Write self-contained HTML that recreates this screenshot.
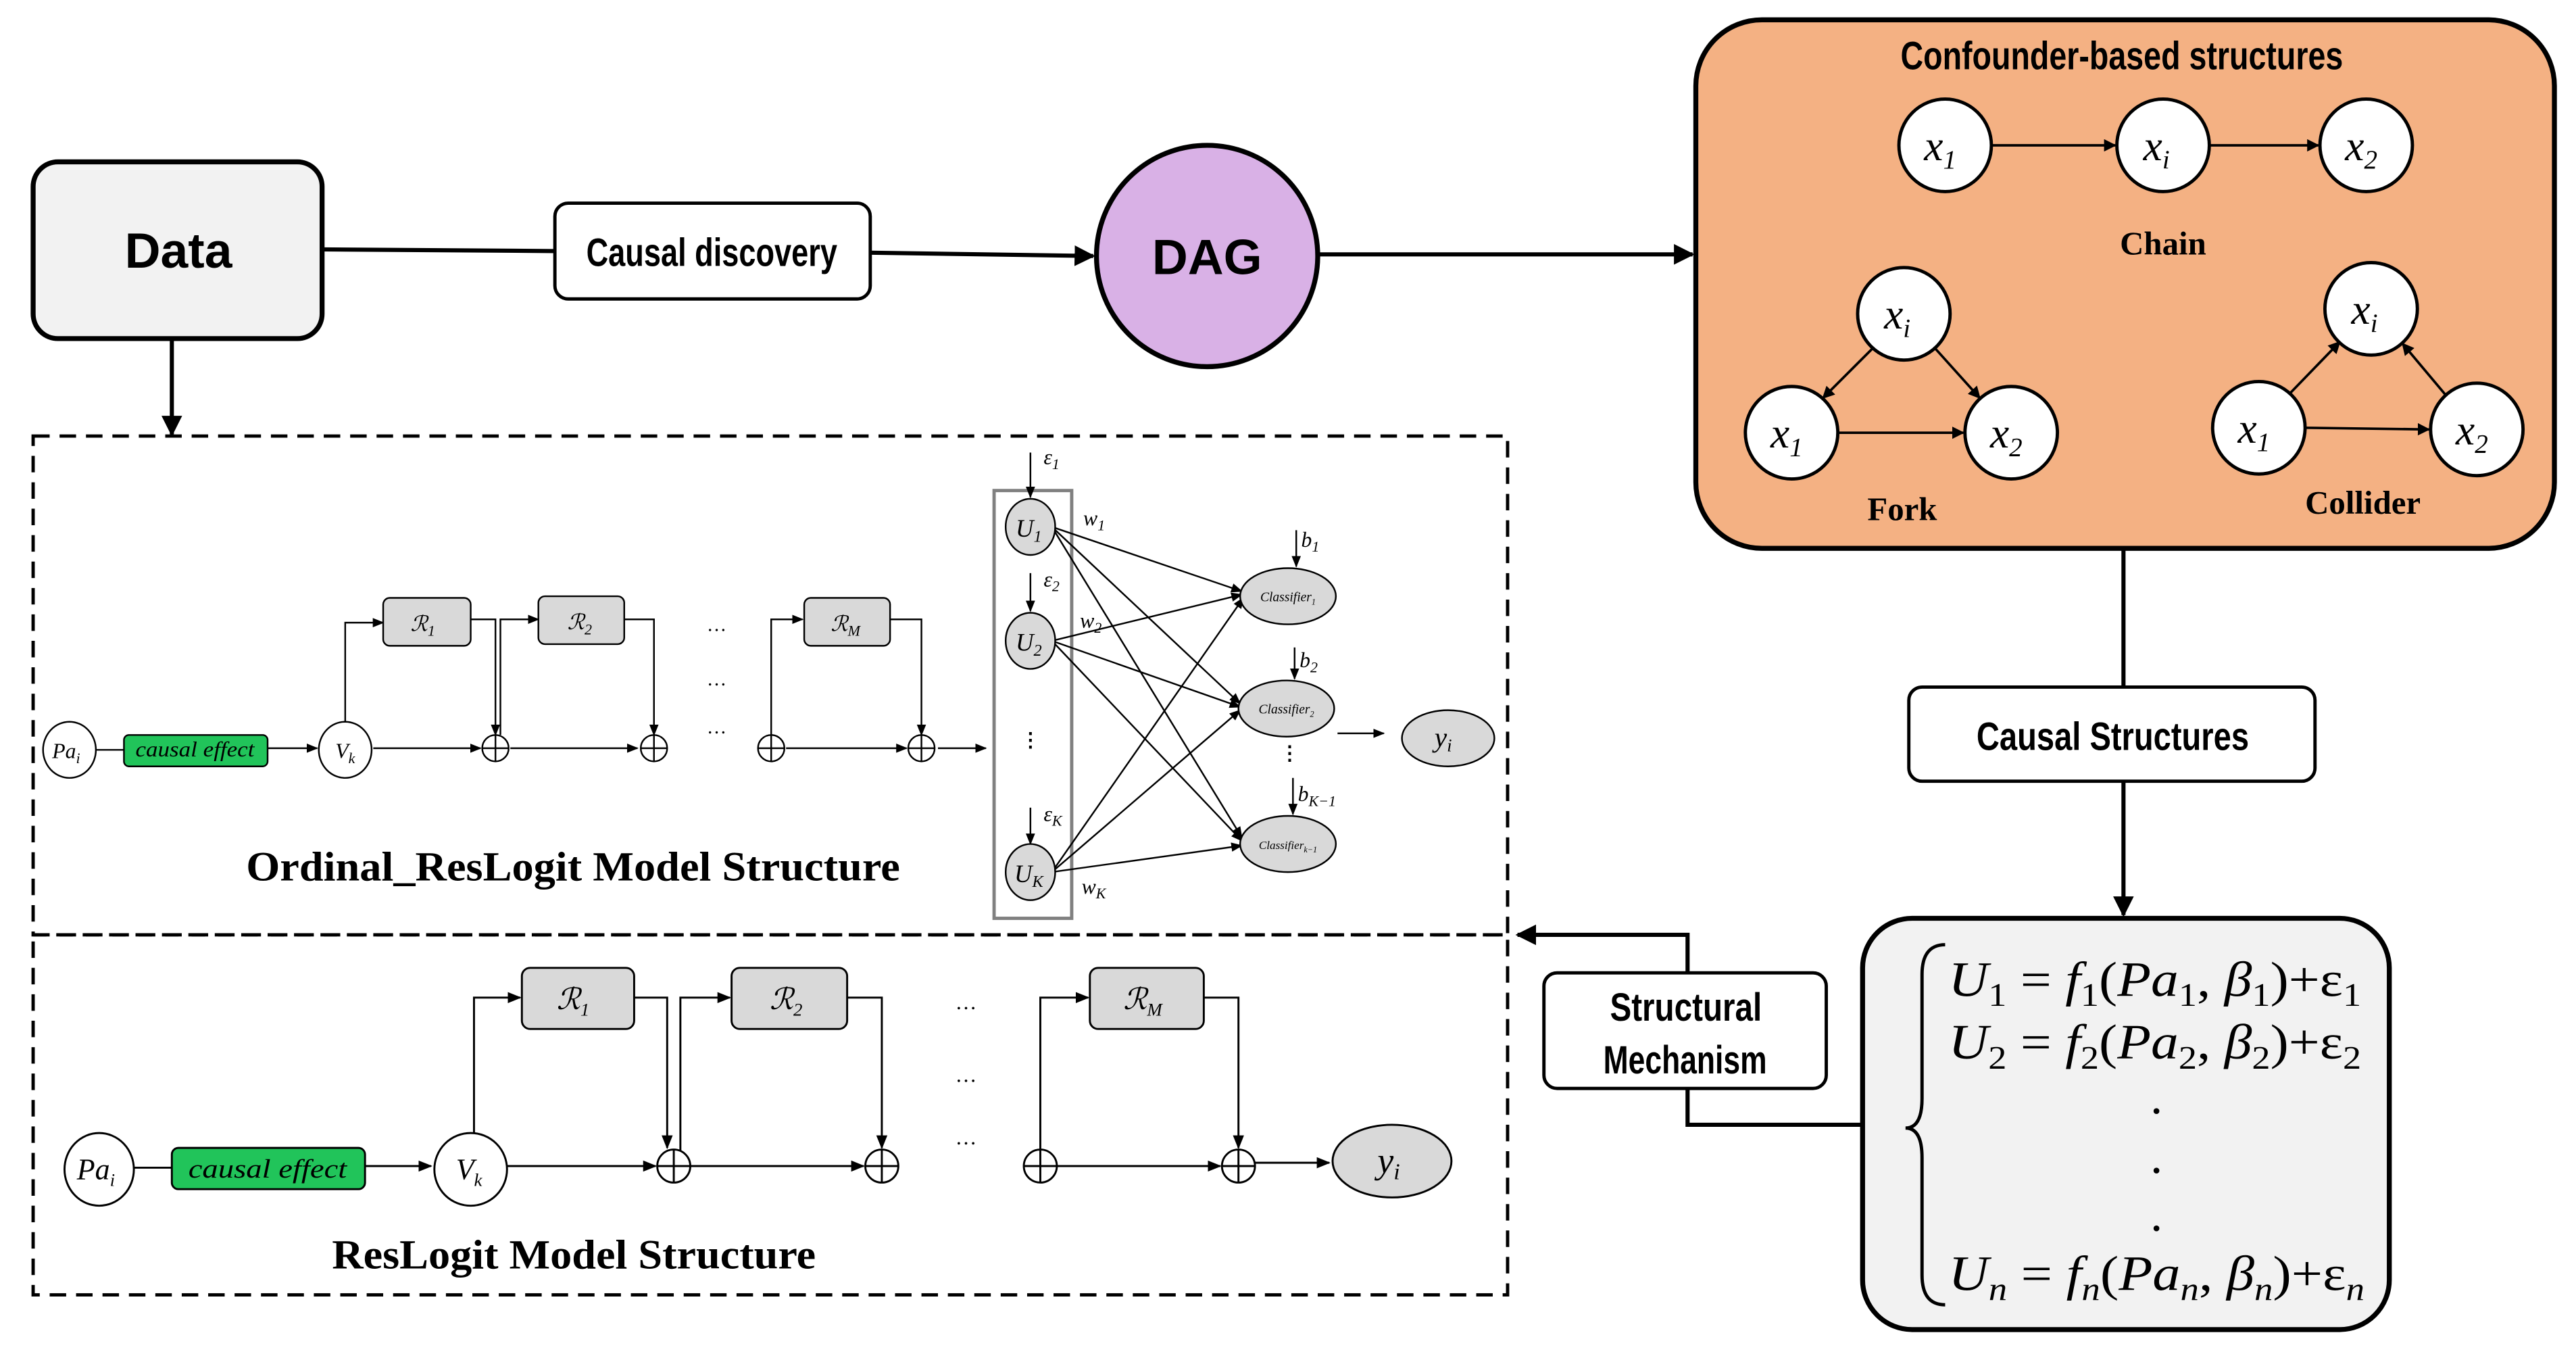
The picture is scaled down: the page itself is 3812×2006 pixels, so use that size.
<!DOCTYPE html>
<html><head><meta charset="utf-8"><style>
html,body{margin:0;padding:0;background:#fff;}
svg{display:block;}
.cond{font-family:"Liberation Sans",sans-serif;font-weight:bold;}
.ser{font-family:"Liberation Serif",serif;}
.it{font-family:"Liberation Serif",serif;font-style:italic;}
</style></head><body>
<svg width="3812" height="2006" viewBox="0 0 1560 821" xmlns="http://www.w3.org/2000/svg">
<defs>
<marker id="a" viewBox="0 0 10 10" refX="9" refY="5" markerWidth="5" markerHeight="5" orient="auto-start-reverse"><path d="M0,0L10,5L0,10z" fill="#000"/></marker>
<marker id="s" viewBox="0 0 10 10" refX="9" refY="5" markerWidth="7" markerHeight="7" orient="auto"><path d="M0,1L10,5L0,9z" fill="#000"/></marker>
</defs>
<rect width="1560" height="821" fill="#fff"/>

<rect x="20" y="98" width="175" height="107" rx="15" fill="#f2f2f2" stroke="#000" stroke-width="3"/>
<text x="108" y="162" font-family="Liberation Sans,sans-serif" font-weight="bold" font-size="30" text-anchor="middle">Data</text>
<line x1="195" y1="151" x2="336" y2="152" stroke="#000" stroke-width="2.5"/>
<rect x="336" y="123" width="191" height="58" rx="8" fill="#fff" stroke="#000" stroke-width="2"/>
<text x="355" y="161" class="cond" font-size="24" textLength="152" lengthAdjust="spacingAndGlyphs">Causal discovery</text>
<line x1="527" y1="153" x2="662" y2="155" stroke="#000" stroke-width="2.5" marker-end="url(#a)"/>
<circle cx="731" cy="155" r="67" fill="#d9b1e6" stroke="#000" stroke-width="3"/>
<text x="731" y="166" font-family="Liberation Sans,sans-serif" font-weight="bold" font-size="30" text-anchor="middle">DAG</text>
<line x1="798" y1="154" x2="1025" y2="154" stroke="#000" stroke-width="2.5" marker-end="url(#a)"/>

<rect x="1027" y="12" width="520" height="320" rx="40" fill="#f4b183" stroke="#000" stroke-width="3"/>
<text x="1151" y="42" class="cond" font-size="24" textLength="268" lengthAdjust="spacingAndGlyphs">Confounder-based structures</text>
<g stroke="#000" stroke-width="1.5" fill="none">
<line x1="1206" y1="88" x2="1281" y2="88" marker-end="url(#a)"/>
<line x1="1338" y1="88" x2="1404" y2="88" marker-end="url(#a)"/>
<line x1="1134" y1="211" x2="1104" y2="241" marker-end="url(#a)"/>
<line x1="1172" y1="211" x2="1199" y2="241" marker-end="url(#a)"/>
<line x1="1113" y1="262" x2="1189" y2="262" marker-end="url(#a)"/>
<line x1="1387" y1="238" x2="1417" y2="207" marker-end="url(#a)"/>
<line x1="1481" y1="239" x2="1455" y2="208" marker-end="url(#a)"/>
<line x1="1396" y1="259" x2="1471" y2="260" marker-end="url(#a)"/>
</g>
<g fill="#fff" stroke="#000" stroke-width="2">
<circle cx="1178" cy="88" r="28"/><circle cx="1310" cy="88" r="28"/><circle cx="1433" cy="88" r="28"/>
<circle cx="1153" cy="190" r="28"/><circle cx="1085" cy="262" r="28"/><circle cx="1218" cy="262" r="28"/>
<circle cx="1436" cy="187" r="28"/><circle cx="1368" cy="259" r="28"/><circle cx="1500" cy="260" r="28"/>
</g>
<g class="it" font-size="26" text-anchor="middle">
<text x="1175" y="97">x<tspan font-size="16" dy="5">1</tspan></text>
<text x="1306" y="97">x<tspan font-size="16" dy="5">i</tspan></text>
<text x="1430" y="97">x<tspan font-size="16" dy="5">2</tspan></text>
<text x="1149" y="199">x<tspan font-size="16" dy="5">i</tspan></text>
<text x="1082" y="271">x<tspan font-size="16" dy="5">1</tspan></text>
<text x="1215" y="271">x<tspan font-size="16" dy="5">2</tspan></text>
<text x="1432" y="196">x<tspan font-size="16" dy="5">i</tspan></text>
<text x="1365" y="268">x<tspan font-size="16" dy="5">1</tspan></text>
<text x="1497" y="269">x<tspan font-size="16" dy="5">2</tspan></text>
</g>
<g class="ser" font-weight="bold" font-size="20" text-anchor="middle">
<text x="1310" y="154">Chain</text>
<text x="1152" y="315">Fork</text>
<text x="1431" y="311">Collider</text>
</g>

<line x1="1286" y1="332" x2="1286" y2="416" stroke="#000" stroke-width="2.5"/>
<rect x="1156" y="416" width="246" height="57" rx="8" fill="#fff" stroke="#000" stroke-width="2"/>
<text x="1197" y="454" class="cond" font-size="24" textLength="165" lengthAdjust="spacingAndGlyphs">Causal Structures</text>
<line x1="1286" y1="473" x2="1286" y2="554" stroke="#000" stroke-width="2.5" marker-end="url(#a)"/>
<rect x="1128" y="556" width="319" height="249" rx="30" fill="#f2f2f2" stroke="#000" stroke-width="3"/>
<path d="M1178,572 Q1164,572 1164,590 L1164,665 Q1164,683 1154,683 Q1164,683 1164,701 L1164,772 Q1164,790 1178,790" fill="none" stroke="#000" stroke-width="2"/>
<g font-family="Liberation Serif,serif" font-size="30">
<text x="1180" y="603" textLength="250" lengthAdjust="spacingAndGlyphs"><tspan font-style="italic">U</tspan><tspan font-size="20" dy="6">1</tspan><tspan dy="-6"> = </tspan><tspan font-style="italic">f</tspan><tspan font-size="20" dy="6">1</tspan><tspan dy="-6">(</tspan><tspan font-style="italic">Pa</tspan><tspan font-size="20" dy="6">1</tspan><tspan dy="-6">, </tspan><tspan font-style="italic">β</tspan><tspan font-size="20" dy="6">1</tspan><tspan dy="-6">)+ε</tspan><tspan font-size="20" dy="6">1</tspan></text>
<text x="1180" y="641" textLength="250" lengthAdjust="spacingAndGlyphs"><tspan font-style="italic">U</tspan><tspan font-size="20" dy="6">2</tspan><tspan dy="-6"> = </tspan><tspan font-style="italic">f</tspan><tspan font-size="20" dy="6">2</tspan><tspan dy="-6">(</tspan><tspan font-style="italic">Pa</tspan><tspan font-size="20" dy="6">2</tspan><tspan dy="-6">, </tspan><tspan font-style="italic">β</tspan><tspan font-size="20" dy="6">2</tspan><tspan dy="-6">)+ε</tspan><tspan font-size="20" dy="6">2</tspan></text>
<text x="1306" y="674" text-anchor="middle">.</text>
<text x="1306" y="710" text-anchor="middle">.</text>
<text x="1306" y="745" text-anchor="middle">.</text>
<text x="1180" y="781" textLength="252" lengthAdjust="spacingAndGlyphs"><tspan font-style="italic">U</tspan><tspan font-size="20" dy="6" font-style="italic">n</tspan><tspan dy="-6"> = </tspan><tspan font-style="italic">f</tspan><tspan font-size="20" dy="6" font-style="italic">n</tspan><tspan dy="-6">(</tspan><tspan font-style="italic">Pa</tspan><tspan font-size="20" dy="6" font-style="italic">n</tspan><tspan dy="-6">, </tspan><tspan font-style="italic">β</tspan><tspan font-size="20" dy="6" font-style="italic">n</tspan><tspan dy="-6">)+ε</tspan><tspan font-size="20" dy="6" font-style="italic">n</tspan></text>
</g>
<polyline points="1128,681 1022,681 1022,566 919,566" fill="none" stroke="#000" stroke-width="2.5" marker-end="url(#a)"/>
<rect x="935" y="589" width="171" height="70" rx="8" fill="#fff" stroke="#000" stroke-width="2"/>
<text x="975" y="618" class="cond" font-size="24" textLength="92" lengthAdjust="spacingAndGlyphs">Structural</text>
<text x="971" y="650" class="cond" font-size="24" textLength="99" lengthAdjust="spacingAndGlyphs">Mechanism</text>

<line x1="104" y1="205" x2="104" y2="263" stroke="#000" stroke-width="2.5" marker-end="url(#a)"/>

<rect x="20" y="264" width="893" height="302" fill="none" stroke="#000" stroke-width="2" stroke-dasharray="10,6"/>
<rect x="20" y="566" width="893" height="218" fill="none" stroke="#000" stroke-width="2" stroke-dasharray="10,6"/>

<g stroke="#000" stroke-width="1" fill="none">
<line x1="58" y1="454" x2="75" y2="454"/>
<line x1="162" y1="453" x2="192" y2="453" marker-end="url(#s)"/>
<line x1="226" y1="453" x2="291" y2="453" marker-end="url(#s)"/>
<line x1="309" y1="453" x2="386" y2="453" marker-end="url(#s)"/>
<line x1="476" y1="453" x2="549" y2="453" marker-end="url(#s)"/>
<line x1="568" y1="453" x2="597" y2="453" marker-end="url(#s)"/>
<polyline points="209,437 209,377 232,377" marker-end="url(#s)"/>
<polyline points="285,375 300,375 300,445" marker-end="url(#s)"/>
<polyline points="303,445 303,375 326,375" marker-end="url(#s)"/>
<polyline points="378,375 396,375 396,445" marker-end="url(#s)"/>
<polyline points="467,445 467,375 486,375" marker-end="url(#s)"/>
<polyline points="539,375 558,375 558,445" marker-end="url(#s)"/>
</g>
<g fill="#fff" stroke="#000" stroke-width="1">
<ellipse cx="42" cy="454" rx="16" ry="17"/>
<ellipse cx="209" cy="454" rx="16" ry="17"/>
<circle cx="300" cy="453" r="8"/><circle cx="396" cy="453" r="8"/><circle cx="467" cy="453" r="8"/><circle cx="558" cy="453" r="8"/>
</g>
<g stroke="#000" stroke-width="1"><line x1="292" y1="453" x2="308" y2="453"/><line x1="300" y1="445" x2="300" y2="461"/><line x1="388" y1="453" x2="404" y2="453"/><line x1="396" y1="445" x2="396" y2="461"/><line x1="459" y1="453" x2="475" y2="453"/><line x1="467" y1="445" x2="467" y2="461"/><line x1="550" y1="453" x2="566" y2="453"/><line x1="558" y1="445" x2="558" y2="461"/></g>
<rect x="75" y="445" width="87" height="19" rx="3" fill="#21c45a" stroke="#000" stroke-width="1"/>
<g fill="#d9d9d9" stroke="#000" stroke-width="1">
<rect x="232" y="362" width="53" height="29" rx="4"/><rect x="326" y="361" width="52" height="29" rx="4"/><rect x="487" y="362" width="52" height="29" rx="4"/>
</g>
<g class="it" font-size="13" text-anchor="middle">
<text x="40" y="459">Pa<tspan font-size="9" dy="3">i</tspan></text>
<text x="118" y="458" textLength="72" lengthAdjust="spacingAndGlyphs">causal effect</text>
<text x="209" y="459">V<tspan font-size="9" dy="3">k</tspan></text>
<text x="256" y="382">ℛ<tspan font-size="9" dy="3">1</tspan></text>
<text x="351" y="381">ℛ<tspan font-size="9" dy="3">2</tspan></text>
<text x="512" y="382">ℛ<tspan font-size="9" dy="3">M</tspan></text>
</g>
<g font-size="12" text-anchor="middle" class="ser"><text x="434" y="382">…</text><text x="434" y="415">…</text><text x="434" y="444">…</text></g>
<text x="149" y="533" class="ser" font-weight="bold" font-size="25" textLength="396" lengthAdjust="spacingAndGlyphs">Ordinal_ResLogit Model Structure</text>

<rect x="602" y="297" width="47" height="259" fill="none" stroke="#808080" stroke-width="2"/>
<g stroke="#000" stroke-width="1" fill="none">
<line x1="624" y1="274" x2="624" y2="301" marker-end="url(#s)"/>
<line x1="624" y1="347" x2="624" y2="370" marker-end="url(#s)"/>
<line x1="624" y1="489" x2="624" y2="511" marker-end="url(#s)"/>
<line x1="785" y1="321" x2="785" y2="343" marker-end="url(#s)"/>
<line x1="784" y1="392" x2="784" y2="411" marker-end="url(#s)"/>
<line x1="783" y1="471" x2="783" y2="493" marker-end="url(#s)"/>
<line x1="810" y1="444" x2="838" y2="444" marker-end="url(#s)"/>
<line x1="637" y1="319" x2="752" y2="358" marker-end="url(#s)"/>
<line x1="637" y1="319" x2="751" y2="426" marker-end="url(#s)"/>
<line x1="637" y1="319" x2="752" y2="507" marker-end="url(#s)"/>
<line x1="637" y1="388" x2="752" y2="360" marker-end="url(#s)"/>
<line x1="637" y1="388" x2="751" y2="428" marker-end="url(#s)"/>
<line x1="637" y1="388" x2="752" y2="509" marker-end="url(#s)"/>
<line x1="637" y1="528" x2="753" y2="362" marker-end="url(#s)"/>
<line x1="637" y1="528" x2="751" y2="430" marker-end="url(#s)"/>
<line x1="637" y1="528" x2="752" y2="512" marker-end="url(#s)"/>
</g>
<g fill="#d9d9d9" stroke="#000" stroke-width="1">
<ellipse cx="624" cy="319" rx="15" ry="17"/><ellipse cx="624" cy="388" rx="15" ry="17"/><ellipse cx="624" cy="528" rx="15" ry="17"/>
<ellipse cx="780" cy="361" rx="29" ry="17"/><ellipse cx="779" cy="429" rx="29" ry="17"/><ellipse cx="780" cy="511" rx="29" ry="17"/>
<ellipse cx="877" cy="447" rx="28" ry="17"/>
</g>
<g class="it" text-anchor="middle">
<text x="623" y="325" font-size="15">U<tspan font-size="10" dy="3">1</tspan></text>
<text x="623" y="394" font-size="15">U<tspan font-size="10" dy="3">2</tspan></text>
<text x="623" y="534" font-size="15">U<tspan font-size="10" dy="3">K</tspan></text>
<text x="780" y="364" font-size="8">Classifier<tspan font-size="5" dy="2">1</tspan></text>
<text x="779" y="432" font-size="8">Classifier<tspan font-size="5" dy="2">2</tspan></text>
<text x="780" y="514" font-size="7">Classifier<tspan font-size="5" dy="2">k−1</tspan></text>
<text x="874" y="452" font-size="17">y<tspan font-size="11" dy="3">i</tspan></text>
</g>
<g class="it" font-size="13">
<text x="632" y="281">ε<tspan font-size="9" dy="3">1</tspan></text>
<text x="632" y="355">ε<tspan font-size="9" dy="3">2</tspan></text>
<text x="632" y="497">ε<tspan font-size="9" dy="3">K</tspan></text>
<text x="656" y="318">w<tspan font-size="9" dy="3">1</tspan></text>
<text x="654" y="380">w<tspan font-size="9" dy="3">2</tspan></text>
<text x="655" y="541">w<tspan font-size="9" dy="3">K</tspan></text>
<text x="788" y="331">b<tspan font-size="9" dy="3">1</tspan></text>
<text x="787" y="404">b<tspan font-size="9" dy="3">2</tspan></text>
<text x="786" y="485">b<tspan font-size="9" dy="3">K−1</tspan></text>
</g>
<g font-size="12" text-anchor="middle" font-weight="bold"><text x="624" y="452">⋮</text><text x="781" y="460">⋮</text></g>

<g stroke="#000" stroke-width="1.2" fill="none">
<line x1="81" y1="707" x2="104" y2="707"/>
<line x1="221" y1="706" x2="261" y2="706" marker-end="url(#s)"/>
<line x1="307" y1="706" x2="397" y2="706" marker-end="url(#s)"/>
<line x1="418" y1="706" x2="523" y2="706" marker-end="url(#s)"/>
<line x1="640" y1="706" x2="739" y2="706" marker-end="url(#s)"/>
<line x1="760" y1="704" x2="805" y2="704" marker-end="url(#s)"/>
<polyline points="287,686 287,604 315,604" marker-end="url(#s)"/>
<polyline points="384,604 404,604 404,695" marker-end="url(#s)"/>
<polyline points="412,697 412,604 442,604" marker-end="url(#s)"/>
<polyline points="513,604 534,604 534,695" marker-end="url(#s)"/>
<polyline points="630,696 630,604 659,604" marker-end="url(#s)"/>
<polyline points="729,604 750,604 750,695" marker-end="url(#s)"/>
</g>
<g fill="#fff" stroke="#000" stroke-width="1.2">
<ellipse cx="60" cy="708" rx="21" ry="22"/>
<ellipse cx="285" cy="708" rx="22" ry="22"/>
<circle cx="408" cy="706" r="10"/><circle cx="534" cy="706" r="10"/><circle cx="630" cy="706" r="10"/><circle cx="750" cy="706" r="10"/>
</g>
<g stroke="#000" stroke-width="1.2"><line x1="398" y1="706" x2="418" y2="706"/><line x1="408" y1="696" x2="408" y2="716"/><line x1="524" y1="706" x2="544" y2="706"/><line x1="534" y1="696" x2="534" y2="716"/><line x1="620" y1="706" x2="640" y2="706"/><line x1="630" y1="696" x2="630" y2="716"/><line x1="740" y1="706" x2="760" y2="706"/><line x1="750" y1="696" x2="750" y2="716"/></g>
<rect x="104" y="695" width="117" height="25" rx="4" fill="#21c45a" stroke="#000" stroke-width="1.2"/>
<g fill="#d9d9d9" stroke="#000" stroke-width="1.2">
<rect x="316" y="586" width="68" height="37" rx="5"/><rect x="443" y="586" width="70" height="37" rx="5"/><rect x="660" y="586" width="69" height="37" rx="5"/>
<ellipse cx="843" cy="703" rx="36" ry="22"/>
</g>
<g class="it" text-anchor="middle">
<text x="58" y="714" font-size="18">Pa<tspan font-size="11" dy="4">i</tspan></text>
<text x="162" y="713" font-size="16" textLength="96" lengthAdjust="spacingAndGlyphs">causal effect</text>
<text x="284" y="714" font-size="18">V<tspan font-size="11" dy="4">k</tspan></text>
<text x="347" y="611" font-size="18">ℛ<tspan font-size="11" dy="4">1</tspan></text>
<text x="476" y="611" font-size="18">ℛ<tspan font-size="11" dy="4">2</tspan></text>
<text x="692" y="611" font-size="18">ℛ<tspan font-size="11" dy="4">M</tspan></text>
<text x="841" y="710" font-size="22">y<tspan font-size="14" dy="4">i</tspan></text>
</g>
<g font-size="13" text-anchor="middle" class="ser"><text x="585" y="611">…</text><text x="585" y="655">…</text><text x="585" y="693">…</text></g>
<text x="201" y="768" class="ser" font-weight="bold" font-size="25" textLength="293" lengthAdjust="spacingAndGlyphs">ResLogit Model Structure</text>
</svg>
</body></html>
